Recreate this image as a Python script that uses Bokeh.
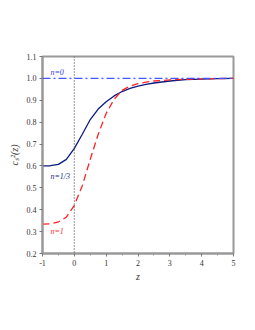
from bokeh.plotting import figure
from bokeh.models import Span, Label, FixedTicker, PrintfTickFormatter
from bokeh.embed import file_html
from bokeh.resources import INLINE

z = [-1.0, -0.75, -0.5, -0.25, 0.0, 0.25, 0.5, 0.75, 1.0, 1.25, 1.5, 1.75, 2.0, 2.25, 2.5, 3.0, 3.5, 4.0, 4.5, 5.0]
cs2_n13 = [0.600, 0.601, 0.607, 0.630, 0.680, 0.745, 0.812, 0.860, 0.893, 0.920, 0.940, 0.954, 0.965, 0.973, 0.979, 0.988, 0.994, 0.997, 0.999, 1.000]
cs2_n1 = [0.334, 0.336, 0.344, 0.366, 0.420, 0.510, 0.630, 0.745, 0.840, 0.905, 0.945, 0.965, 0.976, 0.983, 0.988, 0.993, 0.996, 0.998, 0.999, 1.000]
cs2_n0 = 1.0
x_ticks = [-1, 0, 1, 2, 3, 4, 5]
y_ticks = [0.2, 0.3, 0.4, 0.5, 0.6, 0.7, 0.8, 0.9, 1.0, 1.1]

FONT = "Liberation Serif"

p = figure(frame_width=191, frame_height=197, x_range=(-1, 5), y_range=(0.2, 1.1),
           output_backend="svg", toolbar_location=None,
           min_border_left=42, min_border_top=56, min_border_right=17, min_border_bottom=60)
p.xgrid.visible = False
p.ygrid.visible = False
p.outline_line_color = "#999999"
p.outline_line_width = 2
p.outline_line_alpha = 1

for ax in (p.xaxis[0], p.yaxis[0]):
    ax.axis_line_color = "#999999"
    ax.axis_line_width = 2
    ax.major_tick_line_color = "#777777"
    ax.minor_tick_line_color = "#999999"
    ax.major_tick_in = 0
    ax.major_tick_out = 3
    ax.minor_tick_out = 2
    ax.major_label_text_font = FONT
    ax.major_label_text_font_size = "8px"
    ax.major_label_text_color = "#333333"
    ax.major_label_standoff = 3
    ax.axis_label_text_font = FONT
    ax.axis_label_text_font_style = "italic"
    ax.axis_label_text_font_size = "10px"
    ax.axis_label_text_color = "#333333"

p.xaxis.ticker = FixedTicker(ticks=x_ticks, minor_ticks=[-0.5, 0.5, 1.5, 2.5, 3.5, 4.5])
p.yaxis.ticker = FixedTicker(ticks=y_ticks)
p.xaxis.formatter = PrintfTickFormatter(format="%d")
p.yaxis.formatter = PrintfTickFormatter(format="%.1f")
p.xaxis.axis_label = "z"
p.yaxis.axis_label = "cₛ²(z)"
p.xaxis.axis_label_standoff = 2
p.yaxis.axis_label_standoff = 4

p.add_layout(Span(location=0, dimension="height", line_color="#555555",
                  line_dash="1 2", line_width=1.2))
p.add_layout(Span(location=cs2_n0, dimension="width", line_color="#4455ff",
                  line_dash="8 3 2 3", line_width=1.3))

p.line(z, cs2_n13, line_color="#0a1a80", line_width=1.3)
p.line(z, cs2_n1, line_color="#ff2222", line_width=1.3, line_dash="7 4")

for txt, x, y, col in [("n=0", -0.75, 1.005, "#3344ee"),
                       ("n=1/3", -0.75, 0.53, "#1a2a90"),
                       ("n=1", -0.75, 0.28, "#ff3333")]:
    p.add_layout(Label(x=x, y=y, text=txt, text_font=FONT, text_font_style="italic",
                       text_font_size="8px", text_color=col))

open("out.html", "w").write(file_html(p, INLINE))
